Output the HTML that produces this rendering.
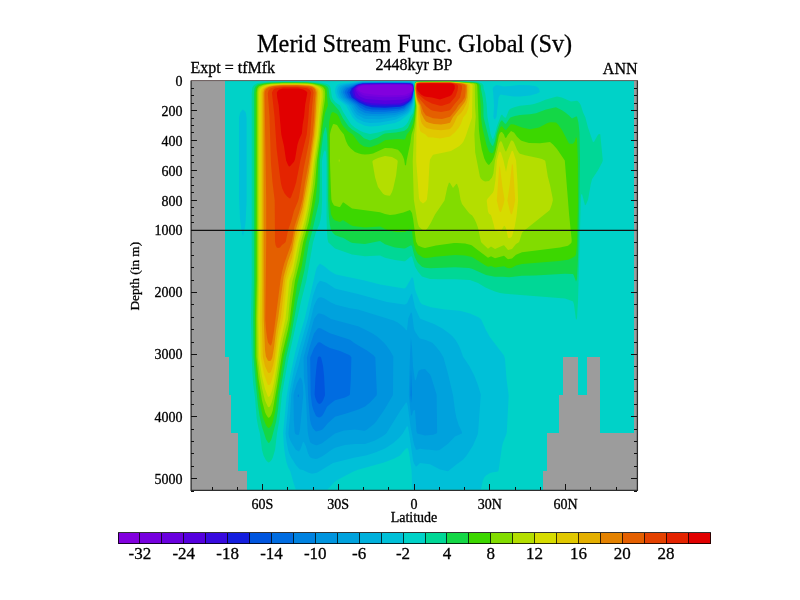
<!DOCTYPE html>
<html><head><meta charset="utf-8"><title>Merid Stream Func. Global (Sv)</title>
<style>
html,body{margin:0;padding:0;background:#fff;overflow:hidden}
svg{display:block}
text{font-family:"Liberation Serif","DejaVu Serif",serif;fill:#000;stroke:#000;stroke-width:0.3px}
</style></head><body>
<svg width="800" height="600" viewBox="0 0 800 600">
<rect width="800" height="600" fill="#fff"/>
<g id="plot">
<rect x="191" y="80" width="447" height="411" fill="#00d2c8"/>
<g fill-rule="evenodd" stroke="none">
<path fill="#00d796" d="M415.6 81.5L417.0 80.9L419.0 80.8L452.0 80.8L476.0 81.8L478.0 82.1L482.0 83.6L483.5 85.5L483.6 88.5L485.2 93.5L486.7 104.5L487.4 116.5L490.5 133.5L492.0 138.1L493.0 139.2L494.5 135.5L497.0 125.9L501.0 115.3L502.0 114.4L504.0 117.1L505.0 117.8L506.0 117.4L508.7 110.5L510.0 109.0L511.0 108.5L515.0 107.0L520.0 105.8L530.0 104.8L534.0 103.9L540.0 102.0L546.0 99.4L557.0 96.5L561.8 97.5L571.0 101.4L577.0 100.8L578.2 101.5L579.9 103.5L580.9 105.5L583.0 112.2L585.4 117.5L588.0 127.5L593.0 142.3L594.2 141.5L598.1 134.5L600.0 133.9L600.3 134.5L602.8 160.5L602.0 162.8L598.0 170.2L592.0 179.3L590.7 184.5L588.1 199.5L586.0 204.4L585.0 205.3L582.0 193.9L581.0 194.7L578.0 301.3L577.0 318.2L576.0 320.1L574.0 304.5L573.0 301.6L572.0 300.9L565.0 298.5L505.0 293.7L500.0 292.9L495.0 291.6L490.0 289.6L485.0 287.3L478.0 283.1L470.0 280.0L455.0 279.3L440.0 279.3L430.0 278.9L422.0 276.4L418.0 271.7L415.0 266.6L412.0 256.4L411.0 256.3L406.0 260.5L405.0 261.2L404.0 261.3L395.0 260.1L388.1 258.5L385.0 257.7L380.0 255.4L365.0 256.2L352.0 254.5L335.0 248.6L328.4 242.5L327.6 239.5L326.9 230.5L326.5 215.5L326.5 161.5L326.1 153.5L326.0 152.2L325.0 150.1L324.0 151.4L322.5 157.5L321.9 161.5L322.1 200.5L321.5 212.5L320.6 219.5L319.3 224.5L316.0 232.1L313.0 242.5L306.4 280.5L301.3 300.5L288.2 359.5L281.9 394.5L279.4 419.5L277.0 433.5L275.1 449.5L273.0 457.1L271.9 459.5L270.0 461.8L269.0 462.5L268.0 462.2L266.0 460.3L263.5 455.5L262.0 449.9L259.9 433.5L258.1 426.5L256.7 418.5L255.0 397.5L253.2 384.5L252.4 372.5L251.6 352.5L251.0 318.5L251.7 279.5L251.7 93.5L252.3 87.5L254.0 85.0L257.0 83.2L260.0 82.6L269.0 81.8L311.0 81.7L322.0 82.7L327.0 83.9L329.0 85.0L330.1 86.5L330.7 88.5L331.8 96.5L333.0 99.4L335.6 102.5L340.0 105.6L343.0 111.7L351.0 124.2L355.0 127.7L360.0 130.7L364.0 132.5L370.0 133.9L378.0 132.6L385.0 130.5L397.0 129.1L403.0 127.2L406.0 124.8L408.0 122.1L410.4 116.5L412.6 113.5L413.5 110.5L414.4 104.5L414.5 83.5L415.0 82.0Z"/>
<path fill="#14d746" d="M416.8 81.5L429.0 81.1L450.0 81.2L473.0 82.2L477.0 82.7L479.1 83.5L480.8 85.5L481.0 89.2L482.6 97.5L483.4 105.5L483.5 116.5L484.0 119.2L489.7 141.5L491.9 145.5L493.0 146.0L495.0 140.5L496.6 132.5L497.8 128.5L500.0 122.6L501.0 120.9L502.0 120.3L505.0 123.8L506.0 123.7L510.0 117.8L511.0 117.2L515.0 115.9L520.0 115.0L530.0 114.3L536.0 113.2L546.0 109.6L556.0 107.3L562.0 110.3L565.0 112.2L569.0 115.5L572.0 118.6L576.0 116.4L577.0 116.5L578.4 122.5L579.5 132.5L580.0 160.5L578.1 256.5L577.0 279.2L576.0 281.4L573.8 275.5L573.0 274.1L572.0 273.9L565.0 273.7L535.0 275.5L522.0 275.8L509.0 277.2L503.0 276.7L495.0 276.8L486.0 275.1L472.0 268.8L469.0 268.1L455.0 267.2L430.0 268.3L425.0 267.7L422.0 266.7L418.0 263.0L417.0 261.5L415.0 257.6L414.0 254.5L412.0 246.1L411.0 245.3L405.0 248.5L404.0 248.5L395.0 247.4L388.7 245.5L385.0 244.3L380.0 241.0L365.0 244.1L353.0 243.0L351.0 242.4L343.0 237.7L340.0 237.1L335.0 235.0L333.0 233.0L331.0 230.0L329.8 224.5L328.9 216.5L328.0 199.5L327.5 147.5L327.0 134.4L326.0 126.8L325.0 128.2L323.3 134.5L319.9 160.5L319.6 191.5L319.0 201.7L311.9 232.5L309.0 242.5L304.4 270.5L297.4 300.5L290.8 337.5L286.0 357.5L279.6 394.5L278.0 409.5L276.1 421.5L272.0 437.2L271.0 440.2L269.5 442.5L269.0 443.1L268.0 442.6L266.0 439.3L262.0 426.7L259.5 415.5L258.0 405.5L255.6 382.5L253.5 357.5L253.2 318.5L253.9 280.5L253.9 93.5L254.4 88.5L255.4 86.5L258.0 84.3L263.0 83.2L270.0 82.5L284.0 82.1L307.0 82.3L319.0 83.4L325.0 84.9L327.2 86.5L328.5 88.5L329.6 97.5L331.0 101.2L339.0 110.4L343.0 118.4L348.7 126.5L352.0 129.6L360.0 134.5L364.0 138.3L370.0 140.4L378.0 137.6L382.7 134.5L385.0 133.6L396.0 132.6L404.0 131.1L406.0 129.8L408.0 127.7L413.0 116.6L414.0 113.1L414.9 105.5L414.6 84.5L415.2 82.5Z"/>
<path fill="#3cd700" d="M427.9 81.5L450.0 81.5L464.0 82.1L476.0 83.0L477.6 83.5L478.5 84.5L479.0 85.5L480.6 104.5L481.1 118.5L482.3 127.5L486.6 145.5L489.0 151.5L491.0 153.0L492.0 153.3L493.0 152.8L494.0 150.5L495.4 145.5L497.4 134.5L500.0 127.8L501.0 126.4L502.0 126.2L505.0 129.7L506.0 129.9L510.0 124.9L511.0 124.2L514.0 124.4L522.0 127.5L530.0 129.2L539.0 127.5L547.0 123.2L549.0 122.5L551.0 122.3L556.0 122.6L558.1 124.5L562.0 129.9L569.0 143.4L570.0 143.8L573.0 143.8L574.7 141.5L576.0 137.0L577.0 138.8L577.9 161.5L578.0 201.5L577.0 244.5L576.0 254.3L575.0 256.2L571.0 258.6L568.0 259.8L559.0 260.9L522.0 264.1L516.0 265.6L512.0 267.7L509.0 268.2L507.0 267.8L504.0 266.3L495.0 267.5L491.0 266.1L488.0 266.7L486.0 265.7L472.0 257.1L465.0 255.6L455.0 255.1L435.0 256.8L429.0 257.7L425.0 257.9L423.0 257.4L418.0 254.3L416.0 251.0L413.5 243.5L412.0 231.0L411.0 229.2L410.0 229.0L405.0 232.1L396.0 231.9L390.0 230.8L386.0 229.6L380.0 226.6L365.0 227.6L353.0 226.0L351.0 225.2L343.0 220.0L340.0 222.1L335.0 220.5L333.0 218.4L331.0 214.3L329.5 199.5L328.5 134.5L329.2 121.5L330.8 114.5L331.9 112.5L333.0 112.1L337.0 114.0L338.7 116.5L341.5 123.5L343.5 126.5L348.2 131.5L352.8 134.5L359.4 143.5L364.0 146.5L369.0 147.3L371.0 147.1L378.0 144.4L385.0 140.3L386.0 140.1L398.0 138.9L405.0 139.5L406.8 134.5L410.0 130.6L413.0 123.4L414.0 118.9L415.5 105.5L414.6 89.5L415.0 83.5L416.0 82.0L417.0 81.7ZM266.0 83.5L283.0 82.7L307.0 82.8L314.0 83.4L322.0 85.1L324.6 86.5L326.2 88.5L326.6 89.5L327.9 105.5L325.0 113.1L323.0 123.5L318.5 160.5L317.4 182.5L315.5 199.5L310.5 225.5L305.8 242.5L301.7 266.5L297.0 284.9L291.2 323.5L288.7 336.5L283.5 357.5L278.3 390.5L275.2 411.5L272.6 422.5L271.0 426.2L269.0 428.1L268.0 427.8L266.1 425.5L263.0 417.5L260.4 405.5L257.1 380.5L255.0 356.5L254.8 318.5L255.5 279.5L255.6 92.5L256.1 88.5L257.0 86.7L258.0 85.7L260.7 84.5Z"/>
<path fill="#82dc00" d="M415.9 82.5L417.0 81.9L420.0 81.7L451.0 81.7L473.0 83.1L475.8 83.5L477.0 84.5L477.3 86.5L478.9 129.5L479.9 138.5L481.8 149.5L484.3 158.5L486.0 162.0L488.0 164.4L489.0 165.0L492.0 161.3L494.0 157.1L495.8 150.5L499.0 134.9L500.0 133.0L501.0 131.9L502.0 132.1L504.0 134.5L505.0 137.4L506.0 138.1L508.0 134.5L511.0 131.1L514.0 132.4L517.0 136.7L521.0 140.4L523.0 141.3L529.0 143.1L540.0 143.3L550.0 141.9L553.0 144.5L557.0 149.0L564.8 160.5L569.2 215.5L571.7 240.5L571.5 242.5L570.7 243.5L568.0 245.7L560.0 247.6L522.0 252.3L516.0 254.8L512.0 258.4L509.0 259.1L508.0 259.2L507.0 258.5L504.0 255.8L495.0 258.3L491.0 256.3L488.0 257.7L477.0 249.5L472.0 245.4L471.0 245.0L465.0 243.5L457.0 243.0L454.0 243.0L436.0 245.5L425.0 248.1L422.0 247.3L418.0 245.5L416.0 241.5L413.2 219.5L412.0 213.1L410.0 210.0L403.4 212.5L395.0 214.4L390.0 215.0L385.0 214.0L380.0 212.2L352.0 208.5L344.0 202.7L343.0 202.3L340.0 207.1L339.0 207.1L334.0 205.4L332.0 202.0L331.4 199.5L331.0 192.0L330.0 162.0L329.9 134.5L331.0 129.6L333.0 124.3L334.0 124.0L337.0 125.1L340.6 130.5L343.9 134.5L346.0 141.0L348.0 145.2L350.8 148.5L355.0 152.0L359.0 153.6L362.0 154.3L365.0 154.6L369.0 154.3L373.0 153.4L385.0 148.1L392.0 148.3L395.0 148.9L398.0 149.8L401.4 153.5L403.0 156.4L404.1 159.5L405.0 165.2L406.0 165.3L406.6 160.5L410.4 142.5L411.5 134.5L413.8 127.5L414.9 120.5L416.0 105.5L415.3 99.5L414.7 87.5L415.2 83.5ZM271.7 83.5L297.0 83.0L307.0 83.2L313.0 83.8L319.9 85.5L323.0 87.1L324.7 89.5L325.2 93.5L324.8 100.5L322.4 116.5L319.8 140.5L317.0 160.5L315.1 183.5L311.8 205.5L308.6 222.5L303.1 242.5L299.7 261.5L295.0 280.5L291.8 302.5L289.7 320.5L288.0 329.4L282.0 354.3L277.3 384.5L272.7 410.5L271.4 414.5L270.3 416.5L269.0 417.7L268.0 417.5L266.1 414.5L265.0 411.9L262.0 400.6L258.5 378.5L256.3 356.5L256.1 318.5L256.8 280.5L256.8 92.5L257.4 88.5L259.0 86.3L264.2 84.5Z"/>
<path fill="#b4de00" d="M416.2 82.5L417.0 82.1L420.0 81.9L450.0 81.8L472.0 83.4L473.1 83.5L474.8 84.5L475.0 105.5L475.7 116.5L474.4 134.5L475.2 152.5L479.9 176.5L481.0 178.8L483.0 180.6L485.0 181.4L489.0 181.1L492.0 177.6L493.4 173.5L495.0 160.5L498.0 147.8L499.0 143.8L500.0 141.7L501.0 141.0L502.0 142.6L505.0 150.6L506.0 151.7L511.0 140.6L512.0 140.4L513.0 141.0L514.0 142.6L517.0 149.7L519.0 153.1L520.0 153.8L525.0 155.3L538.0 157.9L542.0 159.0L545.0 160.5L545.4 161.5L547.8 176.5L550.0 185.1L552.7 198.5L552.8 200.5L551.8 204.5L550.0 209.5L549.0 210.7L524.0 230.8L522.0 232.7L519.3 241.5L518.5 242.5L516.0 244.1L512.0 249.1L508.0 250.1L504.0 245.3L503.0 245.4L495.0 249.0L491.0 246.5L488.0 248.7L481.4 242.5L480.9 241.5L478.0 227.8L476.1 222.5L474.0 218.2L472.0 215.3L470.0 214.1L468.6 212.5L462.0 204.0L460.5 199.5L458.7 188.5L457.0 183.7L456.0 184.3L453.0 188.0L450.0 183.1L449.0 182.5L447.3 187.5L444.5 200.5L435.0 214.4L431.0 222.6L428.0 227.5L426.0 229.9L425.0 230.6L424.0 230.5L422.0 229.4L419.0 226.7L418.0 224.1L417.0 219.2L413.8 199.5L412.7 161.5L414.0 134.5L415.5 125.5L416.6 108.5L416.6 105.5L415.7 100.5L414.8 88.5L415.4 83.5ZM281.6 83.5L307.0 83.7L312.0 84.1L316.0 85.2L319.7 86.5L322.3 88.5L323.3 91.5L323.5 96.5L320.7 119.5L319.0 137.3L315.5 160.5L312.4 188.5L309.4 207.5L305.9 224.5L300.7 242.5L297.9 257.5L294.0 275.5L292.3 281.5L290.0 298.0L288.0 319.3L283.0 339.2L281.0 349.1L275.8 382.5L273.0 397.7L271.7 402.5L270.0 406.5L269.0 407.2L268.0 407.1L265.0 400.5L262.0 388.3L260.0 376.5L257.7 357.5L257.2 318.5L257.9 280.5L257.9 92.5L258.3 89.5L259.0 88.0L261.0 86.5L263.0 85.6L270.0 84.1ZM383.1 156.5L385.0 156.0L392.0 157.1L396.4 159.5L397.5 160.5L397.7 161.5L396.1 175.5L393.2 188.5L392.0 192.0L390.0 195.7L387.4 195.5L385.0 195.0L383.0 193.8L378.0 187.0L375.1 177.5L372.5 162.5L372.4 161.5L373.0 160.5L374.7 159.5L378.0 157.9ZM338.9 159.5L339.0 159.1L339.7 160.5L339.0 162.5L338.7 160.5Z"/>
<path fill="#d7dc00" d="M416.6 82.5L420.0 82.0L451.0 82.0L469.8 83.5L472.3 84.5L472.6 85.5L472.0 117.5L465.6 136.5L463.4 141.5L462.0 143.6L459.0 146.3L451.0 151.1L433.0 154.8L430.0 159.5L429.5 163.5L428.2 187.5L426.9 199.5L425.6 201.5L423.0 203.6L420.0 201.0L419.0 198.3L416.2 160.5L416.4 134.5L417.3 106.5L416.0 100.5L414.9 88.5L415.5 83.5ZM271.3 84.5L283.0 83.8L296.0 83.8L307.0 84.1L312.0 84.7L317.4 86.5L320.4 88.5L321.3 90.5L321.7 93.5L321.7 97.5L319.9 112.5L318.0 134.5L314.0 160.5L310.3 191.5L307.4 208.5L304.5 221.5L298.5 242.5L293.0 270.3L289.5 280.5L285.5 318.5L280.2 342.5L276.9 364.5L274.0 382.2L272.0 390.7L270.0 396.1L269.0 396.8L268.0 396.7L265.0 389.1L262.0 376.6L259.3 358.5L259.0 350.9L258.4 318.5L259.1 279.5L259.1 92.5L259.7 89.5L261.5 87.5L265.9 85.5ZM511.5 151.5L512.0 150.7L513.0 151.2L516.1 160.5L517.5 182.5L518.1 200.5L516.6 215.5L514.8 226.5L512.0 236.3L511.0 237.4L509.0 238.2L508.0 237.7L506.0 228.2L505.0 226.2L504.0 225.7L501.0 230.9L500.0 231.6L496.0 231.1L495.0 230.2L493.7 224.5L491.0 215.1L489.0 213.8L488.0 211.4L486.7 200.5L487.7 198.5L493.0 192.5L494.0 189.7L495.5 179.5L496.9 160.5L499.0 152.7L500.0 151.5L501.0 152.8L503.5 160.5L506.0 171.9L508.2 160.5Z"/>
<path fill="#e1c800" d="M416.9 82.5L421.0 82.1L450.0 82.1L467.1 83.5L469.8 84.5L470.3 86.5L470.0 97.5L468.3 108.5L466.4 113.5L463.2 117.5L461.1 123.5L458.9 127.5L455.0 132.3L450.0 136.4L440.0 138.6L433.0 137.5L428.0 137.2L425.4 134.5L421.0 132.1L420.0 130.5L418.9 125.5L418.2 117.5L418.0 105.5L416.0 98.6L415.1 89.5L415.7 83.5ZM276.5 84.5L297.0 84.2L307.0 84.5L312.0 85.2L315.5 86.5L318.5 88.5L319.5 90.5L320.0 93.5L319.9 97.5L316.5 134.5L312.8 159.5L311.0 176.4L309.4 187.5L304.3 214.5L302.0 223.8L296.7 241.5L292.6 263.5L287.0 280.5L283.2 317.5L278.9 338.5L276.3 357.5L274.0 371.9L271.0 382.8L270.0 384.5L269.0 385.0L268.0 384.9L267.0 382.8L264.0 374.1L260.8 357.5L259.9 318.5L260.6 280.5L260.7 92.5L261.4 89.5L262.1 88.5L265.0 86.6L270.0 85.2ZM512.0 163.5L513.0 165.5L515.2 199.5L514.0 206.6L512.0 214.0L511.0 214.4L510.0 212.1L507.4 200.5L509.7 184.5ZM499.8 165.5L502.4 186.5L504.5 199.5L503.5 204.5L501.2 211.5L501.0 211.9L500.0 212.0L499.0 209.8L496.8 200.5L499.0 169.1Z"/>
<path fill="#e4af00" d="M417.7 82.5L450.0 82.3L464.9 83.5L467.9 84.5L468.5 86.5L468.4 92.5L468.0 97.5L467.0 102.5L463.5 109.5L461.0 112.9L457.3 116.5L456.0 119.2L454.6 122.5L452.3 126.5L450.5 128.5L449.0 129.2L441.0 130.3L433.0 129.6L427.0 128.3L424.3 126.5L422.0 123.7L421.0 121.6L419.7 114.5L419.0 105.5L417.0 100.9L416.0 96.4L415.2 88.5L415.5 85.5L415.9 83.5ZM271.4 85.5L284.0 84.6L297.0 84.6L309.0 85.2L313.0 86.1L315.5 87.5L317.5 89.5L318.3 92.5L315.2 134.5L309.0 180.3L303.0 212.5L295.8 237.5L292.0 257.7L288.0 268.8L285.2 279.5L280.8 317.5L278.2 330.5L276.7 340.5L274.7 357.5L273.0 365.8L271.0 371.7L270.0 372.7L269.0 373.1L268.0 372.8L265.0 366.2L262.8 356.5L261.8 320.5L262.2 280.5L262.2 92.5L263.0 89.5L264.0 88.3L267.2 86.5Z"/>
<path fill="#e48200" d="M419.5 82.5L450.0 82.4L462.9 83.5L466.2 84.5L467.0 85.5L467.1 90.5L466.5 97.5L465.5 100.5L464.4 102.5L454.3 115.5L453.0 117.1L450.0 122.7L446.0 123.8L441.0 124.6L434.0 124.0L429.0 122.7L426.0 121.5L424.0 118.7L421.3 113.5L420.0 105.5L417.5 100.5L416.2 95.5L415.4 88.5L415.8 84.5L416.1 83.5L417.0 82.8ZM275.2 85.5L284.0 84.9L296.0 84.9L308.0 85.5L312.0 86.3L314.2 87.5L316.0 89.5L316.8 92.5L315.4 117.5L314.1 133.5L309.0 170.9L302.4 207.5L295.0 232.8L292.0 249.7L287.8 261.5L283.7 276.5L278.2 317.5L275.9 331.5L274.0 347.7L272.3 357.5L271.0 360.5L270.0 361.0L268.0 360.8L265.9 356.5L265.0 350.0L263.7 317.5L263.5 92.5L264.4 89.5L266.0 88.0L269.3 86.5Z"/>
<path fill="#e45f00" d="M416.3 83.5L417.0 82.9L420.0 82.6L450.0 82.6L461.0 83.5L464.4 84.5L465.5 85.5L465.7 86.5L465.5 92.5L464.8 97.5L462.2 101.5L458.4 105.5L456.0 109.5L450.0 116.8L442.0 119.0L433.0 118.2L426.0 115.5L423.2 111.5L420.7 104.5L418.0 100.2L417.0 97.4L415.6 88.5ZM280.9 85.5L297.0 85.3L309.0 86.2L312.0 87.0L314.2 88.5L314.8 89.5L315.6 92.5L314.5 105.5L314.1 117.5L312.6 134.5L309.0 161.5L305.0 182.6L302.5 199.5L299.0 212.8L294.5 226.5L291.7 242.5L284.3 263.5L282.2 271.5L280.5 280.5L275.2 321.5L274.0 330.9L272.0 342.4L271.0 345.4L270.0 345.2L268.0 342.5L267.0 337.5L266.0 329.6L265.3 319.5L266.2 242.5L266.2 200.5L264.6 93.5L264.9 91.5L265.9 89.5L268.7 87.5L273.0 86.3Z"/>
<path fill="#e44100" d="M416.6 83.5L418.0 83.0L421.0 82.8L450.0 82.8L457.0 83.5L460.7 84.5L461.8 85.5L462.0 88.5L460.1 97.5L454.3 104.5L451.0 108.9L450.0 110.0L449.0 110.4L441.0 111.9L433.0 110.7L431.0 109.9L426.0 106.2L418.0 97.0L417.0 94.5L416.1 89.5L416.1 86.5ZM279.5 86.5L284.0 86.2L297.0 86.2L307.0 86.9L311.8 88.5L312.6 89.5L313.6 92.5L312.2 105.5L310.2 133.5L309.0 142.3L303.7 168.5L299.0 197.5L298.0 201.3L294.0 210.8L291.0 222.1L288.7 228.5L287.4 233.5L285.8 241.5L285.0 242.7L282.0 245.0L280.0 247.5L278.0 248.1L276.8 247.5L275.7 245.5L275.0 241.5L274.7 200.5L272.4 181.5L270.9 162.5L269.5 116.5L267.8 93.5L268.6 90.5L270.3 88.5L275.0 87.1Z"/>
<path fill="#e42300" d="M417.0 83.5L421.0 83.0L449.0 83.0L453.8 83.5L457.0 84.5L457.9 85.5L458.0 86.5L457.6 90.5L455.5 96.5L453.0 99.6L450.0 102.9L449.0 103.4L442.0 105.7L440.0 105.7L432.0 103.5L425.0 99.9L418.5 94.5L417.0 91.7L416.6 89.5L416.6 85.5ZM280.6 87.5L284.0 87.1L297.0 87.1L307.0 88.2L309.5 89.5L311.1 92.5L309.2 105.5L308.4 117.5L306.7 134.5L300.4 160.5L296.1 182.5L294.0 189.2L291.0 197.2L290.0 198.5L289.0 198.1L287.1 196.5L284.6 193.5L282.3 188.5L281.0 183.6L280.0 176.5L276.6 148.5L274.5 116.5L271.9 92.5L273.5 89.5L275.0 88.6Z"/>
<path fill="#e10000" d="M418.0 83.5L431.0 83.2L452.0 83.5L454.0 84.5L454.7 85.5L454.8 88.5L452.0 94.3L450.0 96.1L440.0 99.6L431.9 97.5L426.0 96.8L424.0 96.2L421.0 94.5L417.5 90.5L416.9 88.5L416.9 85.5L417.0 84.5ZM282.7 88.5L298.8 88.5L303.2 89.5L306.0 91.1L307.4 92.5L305.2 104.5L304.1 116.5L302.7 124.5L301.8 133.5L299.0 139.7L297.5 144.5L295.0 159.2L294.0 161.7L290.0 166.2L289.0 166.4L288.0 164.9L286.1 160.5L284.0 146.2L281.3 134.5L278.7 105.5L277.2 97.5L276.8 92.5L278.0 90.7L279.4 89.5Z"/>
<path fill="#00c0d8" d="M358.6 81.5L364.0 81.1L409.0 81.1L412.0 81.4L413.0 81.7L413.7 82.5L414.2 89.5L413.8 100.5L413.0 105.1L411.0 110.9L408.0 114.8L400.5 120.5L395.0 123.1L389.0 123.9L378.0 125.9L370.0 126.5L365.0 125.8L360.0 123.6L357.0 122.0L352.6 117.5L346.0 105.5L339.0 100.0L336.7 97.5L335.1 92.5L335.1 89.5L335.9 86.5L337.7 84.5L340.0 83.5L343.0 82.9ZM495.6 85.5L497.0 85.1L504.0 86.6L519.0 85.1L529.0 85.2L535.0 86.1L537.0 86.8L538.9 88.5L539.8 91.5L539.2 92.5L537.1 93.5L530.0 95.5L520.0 96.5L514.0 96.5L503.0 95.1L501.0 94.5L500.0 94.9L498.6 97.5L496.5 116.5L495.0 119.6L494.0 118.8L493.4 116.5L494.0 105.5L493.2 92.5L492.6 88.5L493.8 86.5ZM242.9 109.5L245.0 111.3L246.0 113.2L246.6 118.5L246.6 201.5L245.7 220.5L245.0 227.2L243.0 236.5L241.7 231.5L240.0 219.2L239.0 198.5L239.0 117.5L240.0 112.9L241.7 110.5ZM319.1 264.5L320.0 263.8L321.0 264.2L324.0 266.1L330.0 270.9L334.0 273.5L336.0 274.4L364.8 280.5L380.0 284.5L404.0 288.4L405.0 288.3L406.0 287.3L412.0 276.9L413.0 278.2L413.7 280.5L415.0 289.0L416.0 292.3L420.0 301.9L422.0 304.3L431.0 307.3L445.0 309.5L460.0 310.8L470.0 313.6L479.0 317.6L481.2 319.5L485.7 329.5L490.0 337.2L504.0 355.5L505.0 359.3L506.6 379.5L508.7 395.5L506.8 432.5L506.0 435.3L503.0 442.5L502.0 446.5L498.6 470.5L497.9 471.5L492.0 472.4L490.0 473.1L486.0 475.5L484.3 477.5L482.9 480.5L480.9 489.5L442.0 489.5L412.4 489.5L411.5 470.5L409.0 452.6L408.0 448.4L407.0 448.1L405.0 449.6L400.0 455.5L394.4 458.5L384.0 462.4L358.0 469.7L353.5 471.5L342.0 477.4L337.0 480.2L334.0 482.4L327.5 489.5L295.8 489.5L293.4 482.5L290.4 471.5L288.0 467.0L286.5 462.5L285.1 455.5L283.9 446.5L283.1 432.5L286.6 396.5L290.0 376.5L295.0 353.0L299.3 336.5L304.7 318.5L316.0 270.1L317.0 267.2Z"/>
<path fill="#00b0dc" d="M355.8 82.5L363.0 81.7L385.0 81.6L410.0 81.7L413.0 82.4L413.7 83.5L414.0 85.5L413.9 95.5L413.1 102.5L411.0 108.6L409.0 111.7L407.0 113.7L396.0 119.5L394.0 120.1L380.0 122.4L370.0 122.9L364.0 121.9L358.0 119.0L356.0 117.5L353.0 113.5L348.7 105.5L343.0 101.3L339.0 97.5L337.4 93.5L337.1 91.5L337.3 89.5L338.0 87.5L339.0 86.3L341.0 85.0L345.0 83.9ZM319.3 281.5L320.0 280.8L321.0 280.9L326.0 282.6L335.0 288.4L340.0 289.8L358.0 294.1L387.0 302.1L404.0 304.6L405.0 304.6L407.0 303.3L411.0 294.6L412.0 293.5L415.0 307.6L420.0 318.4L421.0 319.1L434.0 323.9L442.0 328.2L449.0 333.2L452.0 335.8L455.2 339.5L458.3 344.5L460.2 348.5L463.0 356.5L469.6 366.5L474.0 375.0L477.8 384.5L480.8 394.5L478.2 431.5L477.7 434.5L473.0 445.6L466.6 455.5L463.0 459.7L456.4 464.5L448.0 471.3L440.0 469.4L430.0 464.3L420.0 463.1L417.5 465.5L416.0 466.8L414.0 463.6L413.0 460.3L409.0 432.6L408.0 427.0L407.0 425.9L402.8 433.5L399.0 437.9L393.0 443.2L385.0 448.4L376.0 452.3L366.0 455.6L355.0 457.4L333.0 462.9L317.0 472.8L312.0 473.8L308.0 472.4L303.0 470.1L300.0 469.4L296.0 465.3L291.0 457.2L289.0 453.0L288.0 449.4L286.5 441.5L285.5 433.5L289.4 392.5L294.0 368.9L300.5 344.5L308.0 318.6L313.0 295.8L317.0 284.6Z"/>
<path fill="#00a2dd" d="M359.0 82.5L364.0 82.1L405.0 81.9L411.0 82.2L413.0 82.9L413.7 84.5L414.0 88.5L413.4 98.5L412.6 102.5L410.0 108.1L408.0 110.9L404.0 113.8L395.0 116.9L393.0 117.2L380.0 119.2L366.0 118.9L364.0 118.4L357.0 114.8L354.5 111.5L351.2 105.5L344.4 100.5L341.2 97.5L339.4 93.5L339.1 91.5L339.8 88.5L341.0 87.1L343.0 85.8L346.0 84.8ZM319.3 297.5L320.0 297.2L321.0 297.3L324.0 298.3L331.0 302.5L336.0 304.7L350.0 308.3L358.0 309.6L393.6 320.5L397.7 322.5L401.0 324.9L403.9 327.5L406.0 330.0L407.0 330.2L408.3 318.5L411.0 312.2L412.0 313.5L414.0 328.9L415.0 331.6L419.0 337.5L420.0 338.6L425.0 339.7L432.0 342.5L435.9 346.5L440.6 352.5L443.5 357.5L448.2 374.5L453.1 395.5L455.0 410.6L456.3 417.5L458.8 425.5L462.0 432.0L461.9 433.5L455.0 436.4L448.0 443.8L441.0 449.1L439.0 450.2L436.0 450.5L430.0 449.7L425.0 449.5L420.0 448.7L417.0 449.8L416.0 449.8L414.0 444.5L410.5 426.5L408.0 407.7L407.0 402.7L406.0 402.6L400.0 411.3L386.3 433.5L382.2 436.5L375.0 440.5L365.0 443.9L355.0 444.0L345.0 445.1L335.0 447.8L332.0 449.5L322.0 456.6L318.0 458.5L316.0 458.9L312.0 458.2L310.0 457.2L308.0 453.2L306.0 446.6L304.0 442.6L303.0 441.8L300.8 448.5L299.0 451.4L296.0 449.9L295.0 448.6L291.0 442.1L289.0 436.9L288.4 433.5L290.1 414.5L291.2 394.5L294.0 380.7L298.8 364.5L300.8 355.5L309.5 324.5L314.0 305.7L317.0 299.6L318.0 298.3Z"/>
<path fill="#0094de" d="M362.6 82.5L405.0 82.3L411.0 82.5L413.0 83.3L413.7 85.5L413.9 88.5L413.0 99.1L412.0 102.8L409.0 107.6L407.0 109.9L403.0 112.6L395.0 114.9L391.0 115.2L380.0 116.3L366.0 115.8L364.0 115.3L360.0 113.5L358.0 112.2L356.0 109.7L353.5 105.5L343.2 97.5L340.9 92.5L341.5 89.5L343.1 87.5L344.5 86.5L347.0 85.6L358.0 83.0ZM318.6 313.5L320.0 313.5L324.0 314.7L331.0 319.0L358.0 326.3L365.0 329.5L373.0 333.7L378.4 337.5L385.0 343.7L390.0 350.5L393.3 356.5L393.0 393.5L392.7 395.5L384.0 410.3L376.0 421.8L374.0 423.9L367.0 429.4L365.0 430.7L364.0 430.7L355.0 429.6L344.0 430.4L335.0 433.4L322.0 443.2L317.0 445.2L316.0 445.3L313.9 444.5L311.0 443.0L310.0 441.9L308.3 435.5L307.6 430.5L306.0 398.9L305.0 385.4L304.4 382.5L303.9 376.5L303.6 357.5L314.0 318.9L317.0 314.7L318.0 313.6ZM410.9 337.5L412.0 347.5L413.0 367.0L415.0 380.5L416.0 379.5L418.0 372.2L419.0 370.6L421.0 369.4L425.0 368.9L430.0 374.5L431.0 376.6L436.6 394.5L437.1 430.5L437.1 432.5L436.5 433.5L433.0 434.8L425.0 435.4L417.3 433.5L416.5 431.5L415.0 410.2L414.0 409.9L413.0 411.2L412.1 414.5L411.0 416.1L408.8 394.5L410.0 354.5ZM299.4 378.5L300.0 377.6L301.0 377.9L302.2 380.5L302.8 384.5L303.3 394.5L300.0 429.2L299.0 434.4L298.0 434.9L296.0 434.6L295.1 433.5L294.6 431.5L293.8 419.5L293.5 395.5L294.0 392.5L297.0 383.0Z"/>
<path fill="#0082e0" d="M357.5 83.5L363.0 82.7L385.0 82.5L409.0 82.7L412.0 83.0L412.7 83.5L413.6 85.5L413.8 90.5L413.0 97.2L411.5 102.5L407.6 107.5L404.0 110.5L397.1 112.5L394.0 113.1L381.0 114.1L372.0 113.9L365.0 113.1L359.0 109.8L354.6 104.5L345.2 97.5L342.7 92.5L343.6 89.5L345.6 87.5ZM317.7 328.5L319.0 328.1L321.0 328.6L330.0 333.3L350.0 339.8L355.0 343.4L367.0 350.4L373.8 355.5L375.3 357.5L376.9 393.5L376.5 395.5L370.0 402.5L365.0 406.6L358.4 409.5L347.0 413.3L335.0 416.8L328.0 422.9L323.0 428.9L322.0 429.8L320.0 430.6L316.0 431.5L313.0 428.4L311.1 424.5L309.9 418.5L308.1 396.5L306.9 357.5L310.0 345.7L314.0 333.6ZM411.0 369.5L412.1 394.5L411.3 401.5L411.0 403.2L410.2 394.5ZM298.0 394.5L299.0 394.7L299.0 396.5L298.0 397.3L297.6 395.5Z"/>
<path fill="#006ce1" d="M359.2 83.5L363.0 83.0L385.0 82.7L408.0 82.9L412.2 83.5L413.0 84.2L413.4 85.5L413.7 89.5L412.4 98.5L411.0 102.2L404.0 108.8L398.0 110.5L385.0 111.8L372.0 111.7L365.1 110.5L360.0 107.5L356.9 104.5L347.2 97.5L344.7 92.5L345.3 90.5L346.8 88.5L356.0 84.4ZM318.0 342.5L320.0 342.3L325.0 345.6L330.0 348.1L340.0 351.0L348.1 354.5L350.0 355.4L351.4 357.5L350.8 379.5L349.9 394.5L349.0 395.5L345.0 397.5L335.0 400.2L331.0 403.2L327.0 406.7L323.7 413.5L322.0 416.0L320.0 417.2L319.0 417.4L317.0 416.8L316.0 415.7L313.6 410.5L312.0 405.2L310.7 394.5L310.2 357.5L314.0 348.2Z"/>
<path fill="#0055de" d="M361.0 83.5L375.0 83.1L404.0 83.0L410.0 83.2L412.0 83.7L413.3 85.5L413.6 89.5L412.3 97.5L411.0 101.1L404.0 107.2L399.0 108.7L385.0 109.8L372.0 109.5L366.0 108.3L359.0 104.3L349.4 97.5L347.0 92.5L348.5 89.5L351.2 87.5L356.9 84.5ZM318.9 356.5L320.0 356.4L321.1 357.5L323.0 365.5L324.1 376.5L324.9 392.5L324.9 395.5L323.4 399.5L322.0 402.3L320.6 403.5L319.0 403.9L317.0 402.1L315.2 397.5L314.6 394.5L315.4 378.5L316.6 365.5L317.8 357.5Z"/>
<path fill="#141ede" d="M362.9 83.5L405.0 83.2L410.0 83.4L412.0 83.9L413.1 85.5L413.5 89.5L412.0 97.4L411.0 99.9L408.0 102.7L404.0 105.5L400.0 106.8L385.0 107.8L372.0 107.3L366.0 105.8L359.0 102.6L351.7 97.5L349.6 92.5L351.6 88.5L355.9 85.5L358.0 84.5Z"/>
<path fill="#370ade" d="M376.8 83.5L409.0 83.6L412.0 84.2L412.9 85.5L413.4 88.5L413.1 91.5L411.5 97.5L411.0 98.8L410.0 99.9L408.0 101.5L404.0 103.9L401.0 104.9L390.0 105.6L385.0 105.8L373.0 105.3L367.0 104.2L360.0 101.5L354.0 97.5L352.2 92.5L352.4 90.5L353.3 88.5L356.7 85.5L359.1 84.5L363.0 83.7Z"/>
<path fill="#5500de" d="M360.3 84.5L364.0 83.9L385.0 83.6L405.0 83.7L411.0 84.1L412.0 84.5L412.7 85.5L413.2 87.5L413.1 90.5L412.0 94.7L411.0 97.6L410.0 98.7L408.0 100.3L405.5 101.5L404.0 102.3L400.0 103.4L385.0 104.0L372.0 103.3L365.0 101.9L360.0 99.8L356.3 97.5L355.6 96.5L354.7 93.5L354.1 90.5L354.4 88.5L357.0 85.8Z"/>
<path fill="#6900de" d="M362.7 84.5L386.0 84.0L405.0 84.1L411.0 84.6L412.0 85.2L412.8 86.5L413.1 88.5L412.9 90.5L411.0 95.0L410.0 96.5L408.0 97.9L406.0 98.5L403.0 99.4L400.0 99.8L385.0 100.5L366.0 99.0L361.0 97.0L359.0 95.7L356.2 91.5L355.6 89.5L355.7 88.5L357.3 86.5L359.1 85.5Z"/>
<path fill="#7600de" d="M380.2 84.5L405.0 84.5L410.0 84.8L412.0 85.8L412.9 88.5L412.5 90.5L410.0 94.3L408.0 95.7L403.0 96.8L389.0 97.2L382.0 97.2L366.0 96.1L362.0 94.7L357.1 90.5L356.7 88.5L357.4 87.5L359.0 86.3L362.0 85.2Z"/>
<path fill="#8200de" d="M362.8 85.5L385.0 84.8L405.0 84.9L410.0 85.3L412.0 86.5L412.6 88.5L412.1 90.5L410.0 92.5L406.0 94.5L403.0 95.0L385.0 95.5L373.0 94.5L364.0 93.2L360.0 91.5L357.8 89.5L357.7 88.5L358.6 87.5L360.0 86.5Z"/>
</g>
<g fill="#9c9c9c" shape-rendering="crispEdges">
<path d="M191 80H225.3V357.3H228.8V395.2H231.2V433.3H238.1V471.2H246.7V491H191Z"/>
<path d="M634 80H638V491H543.3V471.2H546.5V433.3H558.8V394.7H562.5V356.5H578V394.7H586.8V356.5H600.1V433.3H634Z"/>
</g>
</g>
<g stroke="#000" stroke-width="1.15" fill="none">
<path d="M191.1 80.6V490.3H637.4V80.6" stroke="#2e2e2e" stroke-width="1.3"/>
<path d="M191.1 80.6H637.4" stroke="#6e5e5e" stroke-width="1"/>
<path d="M191.1 230.3H637.4" stroke="#111" stroke-width="1.2"/>
<path d="M191.1 88.0h3M637.4 88.0h-3M191.1 95.5h3M637.4 95.5h-3M191.1 103.0h3M637.4 103.0h-3M191.1 110.5h6M637.4 110.5h-6M191.1 118.0h3M637.4 118.0h-3M191.1 125.4h3M637.4 125.4h-3M191.1 132.9h3M637.4 132.9h-3M191.1 140.4h6M637.4 140.4h-6M191.1 147.9h3M637.4 147.9h-3M191.1 155.4h3M637.4 155.4h-3M191.1 162.9h3M637.4 162.9h-3M191.1 170.4h6M637.4 170.4h-6M191.1 177.9h3M637.4 177.9h-3M191.1 185.4h3M637.4 185.4h-3M191.1 192.9h3M637.4 192.9h-3M191.1 200.3h6M637.4 200.3h-6M191.1 207.8h3M637.4 207.8h-3M191.1 215.3h3M637.4 215.3h-3M191.1 222.8h3M637.4 222.8h-3M191.1 230.3h6M637.4 230.3h-6M191.1 242.7h3M637.4 242.7h-3M191.1 255.1h3M637.4 255.1h-3M191.1 267.6h3M637.4 267.6h-3M191.1 280.0h3M637.4 280.0h-3M191.1 292.4h6M637.4 292.4h-6M191.1 304.8h3M637.4 304.8h-3M191.1 317.2h3M637.4 317.2h-3M191.1 329.7h3M637.4 329.7h-3M191.1 342.1h3M637.4 342.1h-3M191.1 354.5h6M637.4 354.5h-6M191.1 366.9h3M637.4 366.9h-3M191.1 379.3h3M637.4 379.3h-3M191.1 391.8h3M637.4 391.8h-3M191.1 404.2h3M637.4 404.2h-3M191.1 416.6h6M637.4 416.6h-6M191.1 429.0h3M637.4 429.0h-3M191.1 441.4h3M637.4 441.4h-3M191.1 453.9h3M637.4 453.9h-3M191.1 466.3h3M637.4 466.3h-3M191.1 478.7h6M637.4 478.7h-6M191.1 491.1h3M637.4 491.1h-3M212.0 490.3v-3M237.2 490.3v-3M262.5 490.3v-6M287.8 490.3v-3M313.0 490.3v-3M338.2 490.3v-6M363.5 490.3v-3M388.8 490.3v-3M414.0 490.3v-6M439.2 490.3v-3M464.5 490.3v-3M489.8 490.3v-6M515.0 490.3v-3M540.2 490.3v-3M565.5 490.3v-6M590.8 490.3v-3M616.0 490.3v-3" stroke="#111" stroke-width="1" shape-rendering="crispEdges"/>
</g>
<text x="414.6" y="52" font-size="24.3" text-anchor="middle">Merid Stream Func. Global (Sv)</text>
<text x="190.5" y="73" font-size="16">Expt = tfMfk</text>
<text x="414" y="70.2" font-size="16" text-anchor="middle">2448kyr BP</text>
<text x="637.5" y="73.5" font-size="16" text-anchor="end">ANN</text>
<text x="182.5" y="85.9" font-size="14" text-anchor="end">0</text>
<text x="182.5" y="115.9" font-size="14" text-anchor="end">200</text>
<text x="182.5" y="145.8" font-size="14" text-anchor="end">400</text>
<text x="182.5" y="175.8" font-size="14" text-anchor="end">600</text>
<text x="182.5" y="205.7" font-size="14" text-anchor="end">800</text>
<text x="182.5" y="235.2" font-size="14" text-anchor="end">1000</text>
<text x="182.5" y="297.3" font-size="14" text-anchor="end">2000</text>
<text x="182.5" y="359.4" font-size="14" text-anchor="end">3000</text>
<text x="182.5" y="421.5" font-size="14" text-anchor="end">4000</text>
<text x="182.5" y="483.6" font-size="14" text-anchor="end">5000</text>
<text x="262.5" y="508.6" font-size="14" text-anchor="middle">60S</text>
<text x="338.2" y="508.6" font-size="14" text-anchor="middle">30S</text>
<text x="414.0" y="508.6" font-size="14" text-anchor="middle">0</text>
<text x="489.8" y="508.6" font-size="14" text-anchor="middle">30N</text>
<text x="565.5" y="508.6" font-size="14" text-anchor="middle">60N</text>
<text x="414" y="521.5" font-size="14" text-anchor="middle">Latitude</text>
<text transform="translate(139.3,276.2) rotate(-90)" font-size="13.3" text-anchor="middle">Depth (in m)</text>
<g shape-rendering="crispEdges">
<rect x="118.00" y="532.5" width="22.43" height="11.100000000000023" fill="#8200de"/>
<rect x="139.93" y="532.5" width="22.43" height="11.100000000000023" fill="#7600de"/>
<rect x="161.85" y="532.5" width="22.43" height="11.100000000000023" fill="#6900de"/>
<rect x="183.78" y="532.5" width="22.43" height="11.100000000000023" fill="#5500de"/>
<rect x="205.70" y="532.5" width="22.43" height="11.100000000000023" fill="#370ade"/>
<rect x="227.63" y="532.5" width="22.43" height="11.100000000000023" fill="#141ede"/>
<rect x="249.56" y="532.5" width="22.43" height="11.100000000000023" fill="#0055de"/>
<rect x="271.48" y="532.5" width="22.43" height="11.100000000000023" fill="#006ce1"/>
<rect x="293.41" y="532.5" width="22.43" height="11.100000000000023" fill="#0082e0"/>
<rect x="315.33" y="532.5" width="22.43" height="11.100000000000023" fill="#0094de"/>
<rect x="337.26" y="532.5" width="22.43" height="11.100000000000023" fill="#00a2dd"/>
<rect x="359.19" y="532.5" width="22.43" height="11.100000000000023" fill="#00b0dc"/>
<rect x="381.11" y="532.5" width="22.43" height="11.100000000000023" fill="#00c0d8"/>
<rect x="403.04" y="532.5" width="22.43" height="11.100000000000023" fill="#00d2c8"/>
<rect x="424.96" y="532.5" width="22.43" height="11.100000000000023" fill="#00d796"/>
<rect x="446.89" y="532.5" width="22.43" height="11.100000000000023" fill="#14d746"/>
<rect x="468.81" y="532.5" width="22.43" height="11.100000000000023" fill="#3cd700"/>
<rect x="490.74" y="532.5" width="22.43" height="11.100000000000023" fill="#82dc00"/>
<rect x="512.67" y="532.5" width="22.43" height="11.100000000000023" fill="#b4de00"/>
<rect x="534.59" y="532.5" width="22.43" height="11.100000000000023" fill="#d7dc00"/>
<rect x="556.52" y="532.5" width="22.43" height="11.100000000000023" fill="#e1c800"/>
<rect x="578.44" y="532.5" width="22.43" height="11.100000000000023" fill="#e4af00"/>
<rect x="600.37" y="532.5" width="22.43" height="11.100000000000023" fill="#e48200"/>
<rect x="622.30" y="532.5" width="22.43" height="11.100000000000023" fill="#e45f00"/>
<rect x="644.22" y="532.5" width="22.43" height="11.100000000000023" fill="#e44100"/>
<rect x="666.15" y="532.5" width="22.43" height="11.100000000000023" fill="#e42300"/>
<rect x="688.07" y="532.5" width="22.43" height="11.100000000000023" fill="#e10000"/>
<path d="M139.9 532.5V543.6M161.9 532.5V543.6M183.8 532.5V543.6M205.7 532.5V543.6M227.6 532.5V543.6M249.6 532.5V543.6M271.5 532.5V543.6M293.4 532.5V543.6M315.3 532.5V543.6M337.3 532.5V543.6M359.2 532.5V543.6M381.1 532.5V543.6M403.0 532.5V543.6M425.0 532.5V543.6M446.9 532.5V543.6M468.8 532.5V543.6M490.7 532.5V543.6M512.7 532.5V543.6M534.6 532.5V543.6M556.5 532.5V543.6M578.4 532.5V543.6M600.4 532.5V543.6M622.3 532.5V543.6M644.2 532.5V543.6M666.1 532.5V543.6M688.1 532.5V543.6" stroke="#000" stroke-opacity="0.75" stroke-width="1" fill="none"/>
<rect x="118.0" y="532.5" width="592.0" height="11.100000000000023" fill="none" stroke="#000" stroke-opacity="0.8" stroke-width="1"/>
</g>
<text x="139.9" y="559" font-size="17" text-anchor="middle">-32</text>
<text x="183.8" y="559" font-size="17" text-anchor="middle">-24</text>
<text x="227.6" y="559" font-size="17" text-anchor="middle">-18</text>
<text x="271.5" y="559" font-size="17" text-anchor="middle">-14</text>
<text x="315.3" y="559" font-size="17" text-anchor="middle">-10</text>
<text x="359.2" y="559" font-size="17" text-anchor="middle">-6</text>
<text x="403.0" y="559" font-size="17" text-anchor="middle">-2</text>
<text x="446.9" y="559" font-size="17" text-anchor="middle">4</text>
<text x="490.7" y="559" font-size="17" text-anchor="middle">8</text>
<text x="534.6" y="559" font-size="17" text-anchor="middle">12</text>
<text x="578.4" y="559" font-size="17" text-anchor="middle">16</text>
<text x="622.3" y="559" font-size="17" text-anchor="middle">20</text>
<text x="666.1" y="559" font-size="17" text-anchor="middle">28</text>
</svg></body></html>
